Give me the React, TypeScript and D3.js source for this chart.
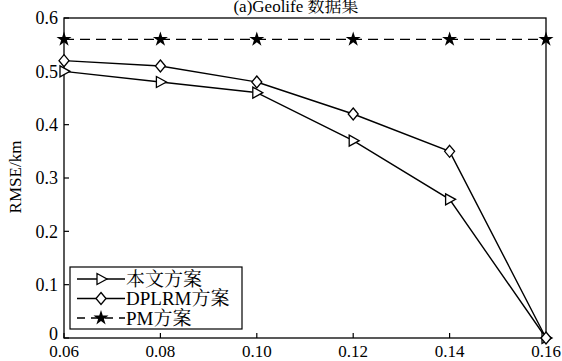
import * as d3 from 'd3'

const xValues = [0.06, 0.08, 0.10, 0.12, 0.14, 0.16]
const oursValues = [0.50, 0.48, 0.46, 0.37, 0.26, 0.0]
const dplrmValues = [0.52, 0.51, 0.48, 0.42, 0.35, 0.0]
const pmValues = [0.56, 0.56, 0.56, 0.56, 0.56, 0.56]
const xTicks = ['0.06', '0.08', '0.10', '0.12', '0.14', '0.16']
const yTicks = [0, 0.1, 0.2, 0.3, 0.4, 0.5, 0.6]
const seriesNames = ['本文方案', 'DPLRM方案', 'PM方案']

const FONT = "'Liberation Serif', 'Noto Serif CJK SC', 'Noto Sans CJK SC', serif"

function Marker({kind, x, y}: {kind: string; x: number; y: number}) {
  if (kind === 'tri') {
    return <path d={`M${x - 4},${y - 5.5}L${x + 6},${y}L${x - 4},${y + 5.5}Z`} fill="white" stroke="black" strokeWidth={1.3} />
  }
  if (kind === 'dia') {
    return <path d={`M${x},${y - 6}L${x + 5},${y}L${x},${y + 6}L${x - 5},${y}Z`} fill="white" stroke="black" strokeWidth={1.3} />
  }
  return <path d={d3.symbol(d3.symbolStar, 70)() ?? undefined} transform={`translate(${x},${y})`} fill="black" />
}

export default function App() {
  const width = 562
  const height = 361
  const left = 64
  const right = 546
  const top = 18
  const bottom = 338

  const x = d3.scaleLinear().domain([0.06, 0.16]).range([left, right])
  const y = d3.scaleLinear().domain([0, 0.6]).range([bottom, top])

  const line = d3.line<number>().x((_, i) => x(xValues[i])).y(d => y(d))

  const series = [
    {values: oursValues, kind: 'tri', dash: undefined},
    {values: dplrmValues, kind: 'dia', dash: undefined},
    {values: pmValues, kind: 'star', dash: '10,6'},
  ]

  return (
    <svg width={width} height={height} style={{position: 'absolute', left: 0, top: 0, background: 'white'}} fontFamily={FONT}>
      <rect width={width} height={height} fill="white" />
      <text x={296} y={12} textAnchor="middle" fontSize={17}>(a)Geolife 数据集</text>

      {/* axes box */}
      <rect x={left} y={top} width={right - left} height={bottom - top} fill="none" stroke="black" strokeWidth={1.3} />

      {yTicks.map(t => (
        <g key={t}>
          <line x1={left} x2={left + 5} y1={y(t)} y2={y(t)} stroke="black" strokeWidth={1.2} />
          <text x={left - 6} y={t === 0 ? y(t) - 4 : y(t)} dy="0.35em" textAnchor="end" fontSize={18}>{t === 0 ? '0' : t.toFixed(1)}</text>
        </g>
      ))}
      {xValues.map((t, i) => (
        <g key={t}>
          <line x1={x(t)} x2={x(t)} y1={bottom} y2={bottom - 5} stroke="black" strokeWidth={1.2} />
          <text x={x(t)} y={357} textAnchor="middle" fontSize={17}>{xTicks[i]}</text>
        </g>
      ))}

      <text transform={`translate(21,177) rotate(-90)`} textAnchor="middle" fontSize={17}>RMSE/km</text>

      {series.map((s, si) => (
        <g key={si}>
          <path d={line(s.values) ?? undefined} fill="none" stroke="black" strokeWidth={1.4} strokeDasharray={s.dash} />
          {s.values.map((v, i) => (
            <Marker key={i} kind={s.kind} x={x(xValues[i])} y={y(v)} />
          ))}
        </g>
      ))}

      {/* legend */}
      <rect x={70} y={267} width={172} height={62} fill="white" stroke="black" strokeWidth={1.2} />
      {series.map((s, i) => {
        const ly = 279 + i * 19.5
        return (
          <g key={i}>
            <line x1={77} x2={125} y1={ly} y2={ly} stroke="black" strokeWidth={1.4} strokeDasharray={s.dash ? '8,6' : undefined} />
            <Marker kind={s.kind} x={101} y={ly} />
            <text x={126} y={ly} dy="0.36em" fontSize={19}>{seriesNames[i]}</text>
          </g>
        )
      })}
    </svg>
  )
}
